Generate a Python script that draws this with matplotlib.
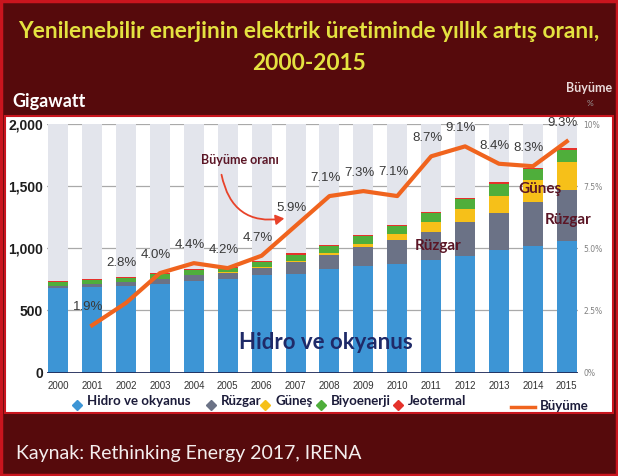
"""Yenilenebilir enerji kapasitesi ve yıllık büyüme oranı (IRENA, 2000-2015)."""

import matplotlib
matplotlib.use("Agg")
import matplotlib.pyplot as plt
from matplotlib.patches import Rectangle, FancyArrowPatch
from matplotlib.lines import Line2D

# --- data (GW) ---
years = list(range(2000, 2016))
hydro = [680, 690, 698, 714, 738, 752, 781, 794, 832, 859, 875, 907, 940, 982, 1020, 1055]
wind = [15, 22, 30, 38, 46, 52, 62, 92, 110, 148, 194, 220, 274, 301, 349, 417]
solar = [1, 1, 2, 3, 4, 5, 8, 11, 19, 27, 46, 81, 102, 140, 177, 220]
bio = [30, 30, 32, 36, 38, 34, 40, 52, 59, 62, 62, 75, 81, 97, 91, 102]
geo = [8, 8, 8, 8, 9, 9, 9, 10, 10, 10, 10, 11, 11, 12, 12, 13]
growth_years = years[1:]
growth = [1.9, 2.8, 4.0, 4.4, 4.2, 4.7, 5.9, 7.1, 7.3, 7.1, 8.7, 9.1, 8.4, 8.3, 9.3]

series_names = ["Hidro ve okyanus", "Rüzgar", "Güneş", "Biyoenerji", "Jeotermal"]
series_colors = ["#3d95d5", "#6b7286", "#f6c019", "#4fae3b", "#e5322b"]
left_ticks = [0, 500, 1000, 1500, 2000]
right_ticks = [0, 2.5, 5.0, 7.5, 10]
right_labels = ["0%", "2.5%", "5.0%", "7.5%", "10%"]

MAROON = "#560a0c"
RED = "#c9151e"
W, H = 618, 476


def fx(px):
    return px / W


def fy(py):
    return 1 - py / H


fig = plt.figure(figsize=(W / 100, H / 100), dpi=100, facecolor=MAROON)
fig.add_artist(Rectangle((0.002, 0.003), 0.996, 0.994, transform=fig.transFigure,
                         fill=False, edgecolor=RED, lw=2.5, zorder=-10))
fig.add_artist(Rectangle((fx(5), fy(413)), fx(608), (413 - 116) / H,
                         transform=fig.transFigure, facecolor="white",
                         edgecolor=RED, lw=1.5, zorder=-9))

# header
fig.text(0.5, fy(32), "Yenilenebilir enerjinin elektrik üretiminde yıllık artış oranı,",
         ha="center", va="center", color="#e4e240", fontsize=16.3,
         fontweight="bold", family="Lato")
fig.text(0.5, fy(63), "2000-2015", ha="center", va="center", color="#e4e240",
         fontsize=16.3, fontweight="bold", family="Lato")
fig.text(fx(12), fy(101), "Gigawatt", ha="left", va="center", color="white",
         fontsize=13, fontweight="bold", family="Lato")
fig.text(fx(589), fy(88), "Büyüme", ha="center", va="center", color="#eadada",
         fontsize=9, fontweight="bold", family="Lato")
fig.text(fx(590), fy(104), "%", ha="center", va="center", color="#9a9a9a",
         fontsize=6, family="Lato")
fig.text(fx(16), fy(454), "Kaynak: Rethinking Energy 2017, IRENA", ha="left",
         va="center", color="#f4eeee", fontsize=14, family="Lato")

# --- bars ---
ax = fig.add_axes([fx(47), fy(372.5), (578 - 47) / W, (372.5 - 124) / H])
ax.set_facecolor("none")
x = list(range(len(years)))
bw = 0.59
ax.bar(x, [2000] * len(x), width=bw, color="#e3e5ec", zorder=1)
bottom = [0] * len(x)
for vals, col in zip([hydro, wind, solar, bio, geo], series_colors):
    ax.bar(x, vals, width=bw, bottom=bottom, color=col, zorder=2)
    bottom = [b + v for b, v in zip(bottom, vals)]

ax.set_xlim(-0.33, 15.33)
ax.set_ylim(0, 2000)
ax.set_yticks(left_ticks, [f"{t:,}" for t in left_ticks])
ax.set_xticks(x, [str(y) for y in years])
ax.tick_params(axis="y", length=0, pad=3, labelsize=10, labelcolor="#1e1e1e")
ax.tick_params(axis="x", length=0, pad=6, labelsize=7, labelcolor="#333333")
for lab in ax.get_yticklabels():
    lab.set_fontweight("bold")
    lab.set_family("Liberation Sans")
for lab in ax.get_xticklabels():
    lab.set_family("Liberation Sans")
for t in left_ticks[1:]:
    ax.axhline(t, color="#a9a9a9", lw=0.9, zorder=0.5)
ax.axhline(0, color="#1f2a58", lw=2, zorder=3)
for s in ax.spines.values():
    s.set_visible(False)

# in-chart labels
ax.text(7.9, 240, "Hidro ve okyanus", ha="center", va="center", color="#1f2a68",
        fontsize=16, fontweight="bold", family="Lato", zorder=5)
ax.text(11.2, 1020, "Rüzgar", ha="center", va="center", color="#5b1626",
        fontsize=11, fontweight="bold", family="Lato", zorder=5)
ax.text(15.05, 1230, "Rüzgar", ha="center", va="center", color="#5b1626",
        fontsize=11, fontweight="bold", family="Lato", zorder=5)
ax.text(14.2, 1480, "Güneş", ha="center", va="center", color="#5b1626",
        fontsize=11, fontweight="bold", family="Lato", zorder=5)
ax.text(5.35, 1710, "Büyüme oranı", ha="center", va="center", color="#5b1626",
        fontsize=9, fontweight="bold", family="Lato", zorder=5)

# --- growth line ---
ax2 = ax.twinx()
ax2.set_ylim(0, 10)
gx = [years.index(y) for y in growth_years]
ax2.plot(gx, growth, color="#f0641e", lw=3, solid_joinstyle="round", zorder=4)
label_dy = {2002: 29, 2010: 17}  # points above the line
for yr, xi, v in zip(growth_years, gx, growth):
    ax2.annotate(f"{v}%", (xi, v), xytext=(-3, label_dy.get(yr, 13)),
                 textcoords="offset points", ha="center", va="center",
                 fontsize=9.5, color="#3a3a3a", family="Liberation Sans")
ax2.set_yticks(right_ticks, right_labels)
ax2.tick_params(axis="y", length=0, pad=4, labelsize=5.5, labelcolor="#808080")
for s in ax2.spines.values():
    s.set_visible(False)

arrow = FancyArrowPatch((fx(221), fy(172)), (fx(287), fy(218)),
                        transform=fig.transFigure, connectionstyle="arc3,rad=0.5",
                        arrowstyle="-|>,head_length=5,head_width=3",
                        color="#e8432a", lw=1.3)
fig.add_artist(arrow)

# --- legend row ---
leg_marker_x = [77, 211, 265, 321, 398]
for name, col, mx in zip(series_names, series_colors, leg_marker_x):
    fig.add_artist(Line2D([fx(mx)], [fy(405)], marker="D", markersize=5,
                          color=col, transform=fig.transFigure))
    fig.text(fx(mx + 10), fy(401), name, ha="left", va="center", color="#1c1c3a",
             fontsize=9.5, fontweight="bold", family="Lato")
fig.add_artist(Line2D([fx(511), fx(535)], [fy(407), fy(407)], color="#f0641e",
                      lw=2.5, transform=fig.transFigure))
fig.text(fx(540), fy(406), "Büyüme", ha="left", va="center", color="#1c1c3a",
         fontsize=9.5, fontweight="bold", family="Lato")

fig.savefig("out.png", dpi=100, facecolor=MAROON)
